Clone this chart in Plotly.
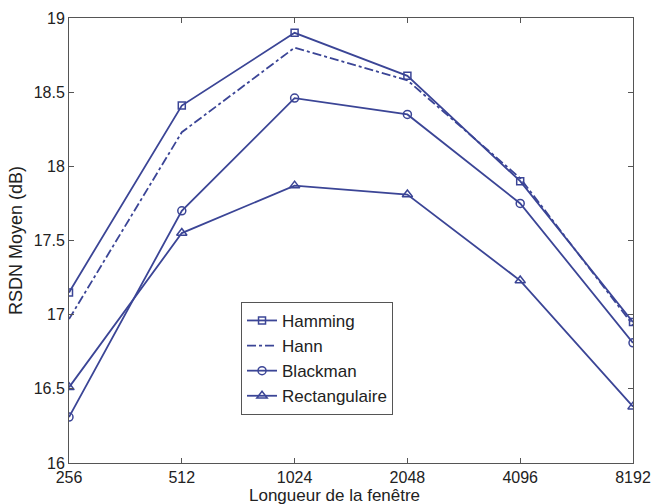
import plotly.graph_objects as go

window_lengths = ["256", "512", "1024", "2048", "4096", "8192"]
hamming = [17.15, 18.41, 18.90, 18.61, 17.90, 16.95]
hann = [16.97, 18.23, 18.80, 18.58, 17.92, 16.93]
blackman = [16.31, 17.70, 18.46, 18.35, 17.75, 16.81]
rectangulaire = [16.51, 17.55, 17.87, 17.81, 17.23, 16.38]

color = "#3b4596"
fig = go.Figure()
fig.add_trace(go.Scatter(x=window_lengths, y=hamming, name="Hamming", mode="lines+markers",
                         line=dict(color=color, width=1.8),
                         marker=dict(symbol="square-open", size=7, color=color, line=dict(width=1.5))))
fig.add_trace(go.Scatter(x=window_lengths, y=hann, name="Hann", mode="lines",
                         line=dict(color=color, width=1.8, dash="dashdot")))
fig.add_trace(go.Scatter(x=window_lengths, y=blackman, name="Blackman", mode="lines+markers",
                         line=dict(color=color, width=1.8),
                         marker=dict(symbol="circle-open", size=8, color=color, line=dict(width=1.5))))
fig.add_trace(go.Scatter(x=window_lengths, y=rectangulaire, name="Rectangulaire", mode="lines+markers",
                         line=dict(color=color, width=1.8),
                         marker=dict(symbol="triangle-up-open", size=9, color=color, line=dict(width=1.5))))

axis_common = dict(showgrid=False, zeroline=False, showline=True, linecolor="#555555", linewidth=1,
                   mirror="ticks", ticks="inside", ticklen=5, tickcolor="#555555", automargin=False,
                   tickfont=dict(size=16, color="#222222"))
fig.update_xaxes(type="category", range=[0, 5], tickvals=window_lengths, ticklabelstandoff=0,
                 **axis_common)
fig.update_yaxes(range=[16, 19], tickvals=[16, 16.5, 17, 17.5, 18, 18.5, 19],
                 ticktext=["16", "16.5", "17", "17.5", "18", "18.5", "19"],
                 title=dict(text="RSDN Moyen (dB)", font=dict(size=18, color="#222222"), standoff=6),
                 **axis_common)
fig.add_annotation(text="Longueur de la fenêtre", xref="paper", yref="paper", x=0.47, y=-41 / 445,
                   xanchor="center", yanchor="bottom", showarrow=False, yshift=-3,
                   font=dict(size=17, color="#222222"))
fig.update_layout(
    width=655, height=504,
    margin=dict(l=69, r=22, t=18, b=41),
    paper_bgcolor="white", plot_bgcolor="white",
    font=dict(family="Liberation Sans, Arial, sans-serif", color="#222222"),
    legend=dict(x=0.305, y=0.362, xanchor="left", yanchor="top",
                bordercolor="#555555", borderwidth=1, bgcolor="white",
                font=dict(size=17), tracegroupgap=0, itemwidth=30),
    showlegend=True,
)
fig.write_html("out.html")
